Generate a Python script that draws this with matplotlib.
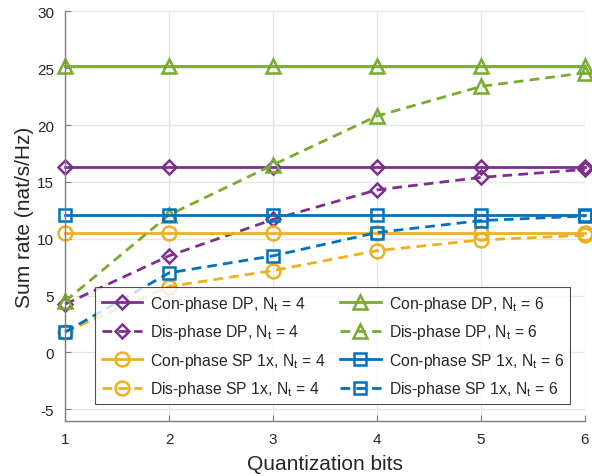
import matplotlib
matplotlib.use("Agg")
import matplotlib.pyplot as plt

plt.rcParams['font.family'] = ['Liberation Sans', 'DejaVu Sans']
plt.rcParams['mathtext.fontset'] = 'custom'
plt.rcParams['mathtext.rm'] = 'Liberation Sans'
plt.rcParams['mathtext.it'] = 'Liberation Sans'
plt.rcParams['axes.unicode_minus'] = False

bits = [1, 2, 3, 4, 5, 6]

con_dp_4 = [16.3, 16.3, 16.3, 16.3, 16.3, 16.3]
dis_dp_4 = [4.25, 8.5, 11.7, 14.3, 15.4, 16.1]
con_sp_4 = [10.5, 10.5, 10.5, 10.5, 10.5, 10.5]
dis_sp_4 = [1.8, 5.8, 7.2, 8.95, 9.9, 10.3]
con_dp_6 = [25.2, 25.2, 25.2, 25.2, 25.2, 25.2]
dis_dp_6 = [4.5, 12.1, 16.5, 20.8, 23.4, 24.6]
con_sp_6 = [12.1, 12.1, 12.1, 12.1, 12.1, 12.1]
dis_sp_6 = [1.8, 7.0, 8.5, 10.55, 11.6, 12.0]

purple = '#7E2F8E'
green = '#77AC30'
orange = '#EDB120'
blue = '#0072BD'

fig = plt.figure(figsize=(5.92, 4.77), dpi=100)
ax = fig.add_axes([0.110, 0.116, 0.878, 0.858])

dash = (0, (3.5, 2.2))
style = dict(lw=2.0, mew=1.8, mfc='none', clip_on=False)

series = [
    (con_dp_4, purple, 'D', '-', 'Con-phase DP, N$_t$ = 4', 6.8),
    (dis_dp_4, purple, 'D', dash, 'Dis-phase DP, N$_t$ = 4', 6.8),
    (con_sp_4, orange, 'o', '-', 'Con-phase SP 1x, N$_t$ = 4', 10),
    (dis_sp_4, orange, 'o', dash, 'Dis-phase SP 1x, N$_t$ = 4', 10),
    (con_dp_6, green, '^', '-', 'Con-phase DP, N$_t$ = 6', 10),
    (dis_dp_6, green, '^', dash, 'Dis-phase DP, N$_t$ = 6', 10),
    (con_sp_6, blue, 's', '-', 'Con-phase SP 1x, N$_t$ = 6', 8.5),
    (dis_sp_6, blue, 's', dash, 'Dis-phase SP 1x, N$_t$ = 6', 8.5),
]

for vals, col, mk, ls, lab, ms in series:
    ax.plot(bits, vals, color=col, marker=mk, linestyle=ls, label=lab, ms=ms, **style)

ax.set_xlim(1, 6)
ax.set_ylim(-6, 30)
ax.set_xticks(bits)
ax.set_yticks([-5, 0, 5, 10, 15, 20, 25, 30])
ax.grid(True, color='#E6E6E6', lw=1.0)
ax.set_axisbelow(True)

for s in ['top', 'right']:
    ax.spines[s].set_visible(False)
for s in ['left', 'bottom']:
    ax.spines[s].set_color('#7F7F7F')
    ax.spines[s].set_linewidth(1.0)
ax.tick_params(direction='in', length=4, colors='#7F7F7F', labelcolor='#262626',
               labelsize=11, pad=8)

ax.set_xlabel('Quantization bits', fontsize=15, color='#262626', labelpad=6)
ax.set_ylabel('Sum rate (nat/s/Hz)', fontsize=15, color='#262626', labelpad=2)

leg = ax.legend(loc='lower left', bbox_to_anchor=(0.058, 0.04, 0.0, 0.0), ncol=2,
                fontsize=11.3, frameon=True, fancybox=False, handlelength=2.6,
                handletextpad=0.5, columnspacing=0.9, labelspacing=0.6,
                borderpad=0.4, borderaxespad=0.0)
leg.get_frame().set_edgecolor('#262626')
leg.get_frame().set_linewidth(0.8)
for t in leg.get_texts():
    t.set_color('#262626')

fig.savefig('out.png', dpi=100)
